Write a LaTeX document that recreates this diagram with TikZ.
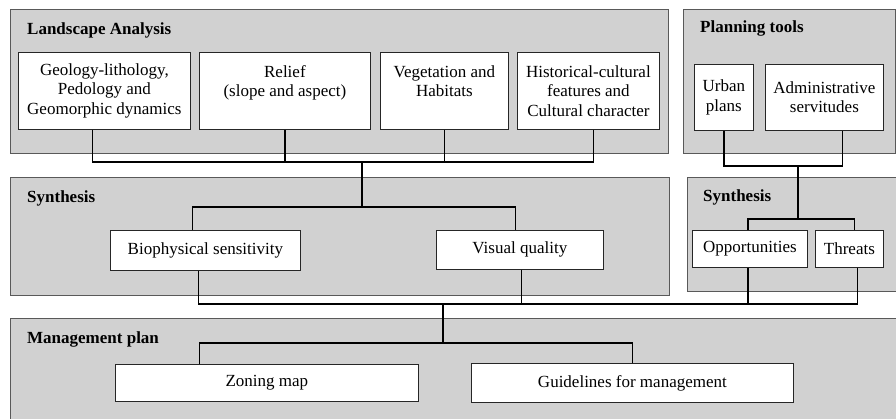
\documentclass[tikz,border=0pt]{standalone}
\usepackage{fontspec}
\setmainfont{Liberation Serif}
\tikzset{
  panel/.style={draw=black!65, fill=black!18, line width=0.8pt, anchor=north west, inner sep=0pt},
  box/.style={draw=black!85, fill=white, line width=0.8pt, anchor=north west, align=center, inner sep=0pt},
  title/.style={anchor=west, inner sep=0pt, font=\fontsize{17}{19.5}\selectfont\bfseries},
  link/.style={line width=1.3pt, black}
}
\begin{document}
\begin{tikzpicture}[x=1pt,y=-1pt,font=\fontsize{17}{19.5}\selectfont]
\useasboundingbox (0,0) rectangle (896,419);

\node[panel, minimum width=658pt, minimum height=144pt] (landpanel) at (10,9) {};
\node[panel, minimum width=212pt, minimum height=144pt] (planpanel) at (683,9) {};
\node[panel, minimum width=659pt, minimum height=118pt] (synleft) at (10,177) {};
\node[panel, minimum width=212pt, minimum height=114pt] (synright) at (687,177) {};
\node[panel, minimum width=890pt, minimum height=104pt] (mgmtpanel) at (10,318) {};

\node[title] (landtitle) at (27,30) {Landscape Analysis};
\node[title] (plantitle) at (700,28) {Planning tools};
\node[title] (synltitle) at (27,198) {Synthesis};
\node[title] (synrtitle) at (703,197) {Synthesis};
\node[title] (mgmttitle) at (27,339) {Management plan};

\node[box, minimum width=172pt, minimum height=77pt] (geo) at (18,52) {Geology-lithology,\\Pedology and\\Geomorphic dynamics};
\node[box, minimum width=171pt, minimum height=77pt] (rel) at (199,52) {Relief\\(slope and aspect)\\\mbox{}};
\node[box, minimum width=128pt, minimum height=77pt] (veg) at (380,52) {Vegetation and\\Habitats\\\mbox{}};
\node[box, minimum width=142pt, minimum height=77pt] (hist) at (517,52) {Historical-cultural\\features and\\Cultural character};

\node[box, minimum width=59pt, minimum height=66pt] (urb) at (694,64) {Urban\\plans};
\node[box, minimum width=118pt, minimum height=66pt] (adm) at (765,64) {Administrative\\servitudes};

\node[box, minimum width=190pt, minimum height=40pt] (bio) at (110,230) {Biophysical sensitivity};
\node[box, minimum width=167pt, minimum height=39pt] (vis) at (436,230) {Visual quality};
\node[box, minimum width=115pt, minimum height=37pt] (opp) at (692,230) {Opportunities};
\node[box, minimum width=68pt, minimum height=37pt] (thr) at (815,230) {Threats};

\node[box, minimum width=303pt, minimum height=37pt] (zon) at (115,364) {Zoning map};
\node[box, minimum width=322pt, minimum height=39pt] (gui) at (471,363) {Guidelines for management};

% joints
\coordinate (j1) at (362,162);
\coordinate (j2) at (362,207);
\coordinate (j3) at (798,166);
\coordinate (j4) at (798,219);
\coordinate (j5) at (443,304);
\coordinate (j6) at (443,343);

\draw[link] ([xshift=-12pt]geo.south) |- (j1);
\draw[link] (rel.south) |- (j1);
\draw[link] (veg.south) |- (j1);
\draw[link] ([xshift=5pt]hist.south) |- (j1);
\draw[link] (j1) -- (j2);
\draw[link] (j2) -| ([xshift=-13pt]bio.north);
\draw[link] (j2) -| ([xshift=-4.5pt]vis.north);

\draw[link] (urb.south) |- (j3);
\draw[link] ([xshift=18pt]adm.south) |- (j3);
\draw[link] (j3) -- (j4);
\draw[link] (j4) -| ([xshift=-2pt]opp.north);
\draw[link] (j4) -| ([xshift=5pt]thr.north);

\draw[link] ([xshift=-7pt]bio.south) |- (j5);
\draw[link] ([xshift=1.5pt]vis.south) |- (j5);
\draw[link] ([xshift=-2pt]opp.south) |- (j5);
\draw[link] ([xshift=8pt]thr.south) |- (j5);
\draw[link] (j5) -- (j6);
\draw[link] (j6) -| ([xshift=-67.5pt]zon.north);
\draw[link] (j6) -| (gui.north);
\end{tikzpicture}
\end{document}
